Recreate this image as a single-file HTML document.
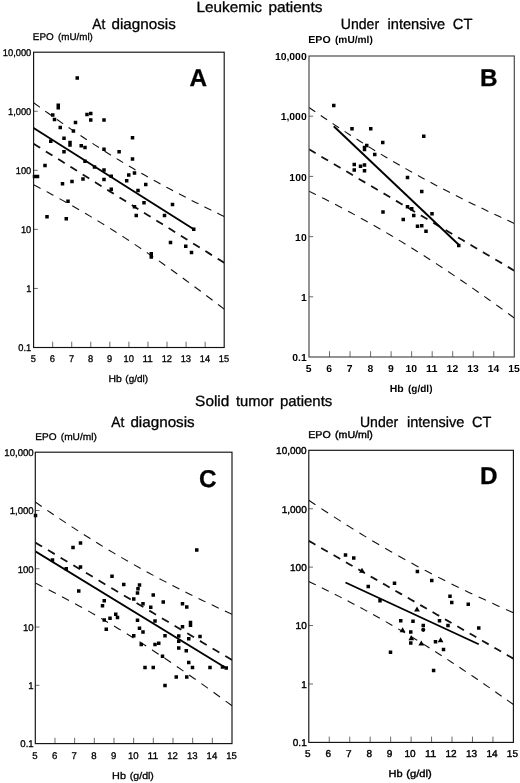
<!DOCTYPE html>
<html lang="en"><head><meta charset="utf-8"><title>EPO vs Hb</title>
<style>html,body{margin:0;padding:0;background:#fff}body{width:520px;height:783px;overflow:hidden}</style>
</head><body>
<svg width="520" height="783" viewBox="0 0 520 783" style="display:block" text-rendering="geometricPrecision">
<rect width="520" height="783" fill="#fff"/>
<g font-family="'Liberation Sans', Arial, Helvetica, sans-serif" fill="#000" stroke="#000" stroke-width="0.3">
<text x="196.58" y="11.6" font-size="14.8" textLength="65.37" lengthAdjust="spacingAndGlyphs">Leukemic</text>
<text x="268.42" y="11.6" font-size="14.8" textLength="54.02" lengthAdjust="spacingAndGlyphs">patients</text>
<text x="92.33" y="29.1" font-size="14.8" textLength="13.02" lengthAdjust="spacingAndGlyphs">At</text>
<text x="111.52" y="29.1" font-size="14.8" textLength="64.33" lengthAdjust="spacingAndGlyphs">diagnosis</text>
<text x="340.83" y="29.0" font-size="14.8" textLength="38.27" lengthAdjust="spacingAndGlyphs">Under</text>
<text x="387.52" y="29.0" font-size="14.8" textLength="57.67" lengthAdjust="spacingAndGlyphs">intensive</text>
<text x="452.82" y="29.0" font-size="14.8" textLength="19.68" lengthAdjust="spacingAndGlyphs">CT</text>
<text x="195.13" y="406.4" font-size="14.8" textLength="34.23" lengthAdjust="spacingAndGlyphs">Solid</text>
<text x="235.89" y="406.4" font-size="14.8" textLength="37.71" lengthAdjust="spacingAndGlyphs">tumor</text>
<text x="279.92" y="406.4" font-size="14.8" textLength="52.42" lengthAdjust="spacingAndGlyphs">patients</text>
<text x="111.28" y="426.5" font-size="14.8" textLength="13.07" lengthAdjust="spacingAndGlyphs">At</text>
<text x="130.42" y="426.5" font-size="14.8" textLength="64.33" lengthAdjust="spacingAndGlyphs">diagnosis</text>
<text x="359.93" y="426.7" font-size="14.8" textLength="38.27" lengthAdjust="spacingAndGlyphs">Under</text>
<text x="407.02" y="426.7" font-size="14.8" textLength="57.37" lengthAdjust="spacingAndGlyphs">intensive</text>
<text x="472.02" y="426.7" font-size="14.8" textLength="19.38" lengthAdjust="spacingAndGlyphs">CT</text>
<text x="189.6" y="85.75" font-size="24.3" font-weight="bold">A</text>
<text x="480.0" y="85.75" font-size="24.3" font-weight="bold">B</text>
<text x="199.0" y="486.9" font-size="24.3" font-weight="bold">C</text>
<text x="480.0" y="483.75" font-size="24.3" font-weight="bold">D</text>
</g>
<g id="panelA">
<clipPath id="clipA"><rect x="33.6" y="52.2" width="190.60" height="295.30"/></clipPath>
<g fill="none" stroke="#111" clip-path="url(#clipA)">
<path d="M33.60,102.70 L38.37,106.17 L43.13,109.61 L47.89,113.02 L52.66,116.40 L57.42,119.75 L62.19,123.08 L66.95,126.37 L71.72,129.63 L76.48,132.85 L81.25,136.04 L86.02,139.20 L90.78,142.32 L95.54,145.41 L100.31,148.46 L105.07,151.48 L109.84,154.46 L114.60,157.40 L119.37,160.31 L124.13,163.19 L128.90,166.02 L133.66,168.83 L138.43,171.59 L143.19,174.33 L147.96,177.03 L152.72,179.70 L157.49,182.33 L162.25,184.94 L167.02,187.52 L171.78,190.06 L176.55,192.58 L181.31,195.07 L186.08,197.54 L190.84,199.98 L195.61,202.39 L200.37,204.79 L205.14,207.16 L209.90,209.50 L214.67,211.83 L219.43,214.14 L224.20,216.43" stroke-width="1.1" stroke-dasharray="7.66 6.65"/>
<path d="M33.60,184.79 L38.37,187.27 L43.13,189.79 L47.89,192.33 L52.66,194.90 L57.42,197.50 L62.19,200.13 L66.95,202.79 L71.72,205.49 L76.48,208.21 L81.25,210.97 L86.02,213.77 L90.78,216.60 L95.54,219.47 L100.31,222.37 L105.07,225.31 L109.84,228.28 L114.60,231.29 L119.37,234.33 L124.13,237.41 L128.90,240.53 L133.66,243.68 L138.43,246.86 L143.19,250.08 L147.96,253.33 L152.72,256.62 L157.49,259.94 L162.25,263.28 L167.02,266.66 L171.78,270.07 L176.55,273.50 L181.31,276.96 L186.08,280.45 L190.84,283.96 L195.61,287.50 L200.37,291.06 L205.14,294.65 L209.90,298.25 L214.67,301.88 L219.43,305.52 L224.20,309.19" stroke-width="1.1" stroke-dasharray="7.85 6.82"/>
<path d="M33.60,143.74 L38.37,146.72 L43.13,149.70 L47.89,152.67 L52.66,155.65 L57.42,158.63 L62.19,161.60 L66.95,164.58 L71.72,167.56 L76.48,170.53 L81.25,173.51 L86.02,176.49 L90.78,179.46 L95.54,182.44 L100.31,185.42 L105.07,188.39 L109.84,191.37 L114.60,194.35 L119.37,197.32 L124.13,200.30 L128.90,203.28 L133.66,206.25 L138.43,209.23 L143.19,212.21 L147.96,215.18 L152.72,218.16 L157.49,221.14 L162.25,224.11 L167.02,227.09 L171.78,230.07 L176.55,233.04 L181.31,236.02 L186.08,238.99 L190.84,241.97 L195.61,244.95 L200.37,247.92 L205.14,250.90 L209.90,253.88 L214.67,256.85 L219.43,259.83 L224.20,262.81" stroke-width="1.8" stroke-dasharray="7.74 6.73"/>
<path d="M33.6,128.0 L193.75,229.25" stroke-width="1.9" stroke="#000"/>
</g>
<path d="M75.50,76.25h3.5v3.5h-3.5zM56.50,103.55h3.5v3.5h-3.5zM56.50,106.05h3.5v3.5h-3.5zM51.00,113.25h3.5v3.5h-3.5zM52.75,117.75h3.5v3.5h-3.5zM58.50,125.75h3.5v3.5h-3.5zM62.25,136.55h3.5v3.5h-3.5zM73.75,120.75h3.5v3.5h-3.5zM71.65,129.35h3.5v3.5h-3.5zM85.25,112.75h3.5v3.5h-3.5zM89.00,111.75h3.5v3.5h-3.5zM89.00,118.25h3.5v3.5h-3.5zM102.25,118.25h3.5v3.5h-3.5zM130.75,136.05h3.5v3.5h-3.5zM49.00,139.50h3.5v3.5h-3.5zM68.25,140.75h3.5v3.5h-3.5zM68.25,143.25h3.5v3.5h-3.5zM79.50,144.00h3.5v3.5h-3.5zM83.25,145.75h3.5v3.5h-3.5zM62.25,150.00h3.5v3.5h-3.5zM102.25,147.50h3.5v3.5h-3.5zM117.35,150.00h3.5v3.5h-3.5zM130.75,157.25h3.5v3.5h-3.5zM83.25,159.50h3.5v3.5h-3.5zM43.25,163.75h3.5v3.5h-3.5zM92.75,165.25h3.5v3.5h-3.5zM102.25,168.25h3.5v3.5h-3.5zM32.75,174.75h3.5v3.5h-3.5zM35.75,174.75h3.5v3.5h-3.5zM109.50,174.55h3.5v3.5h-3.5zM127.00,173.25h3.5v3.5h-3.5zM132.75,171.25h3.5v3.5h-3.5zM81.25,177.25h3.5v3.5h-3.5zM102.25,177.75h3.5v3.5h-3.5zM70.25,179.75h3.5v3.5h-3.5zM124.95,179.00h3.5v3.5h-3.5zM60.75,182.00h3.5v3.5h-3.5zM144.00,182.75h3.5v3.5h-3.5zM109.50,187.50h3.5v3.5h-3.5zM136.25,188.75h3.5v3.5h-3.5zM66.25,199.50h3.5v3.5h-3.5zM142.25,201.00h3.5v3.5h-3.5zM132.75,205.00h3.5v3.5h-3.5zM134.50,213.75h3.5v3.5h-3.5zM45.25,215.00h3.5v3.5h-3.5zM64.50,217.00h3.5v3.5h-3.5zM170.75,202.75h3.5v3.5h-3.5zM162.75,213.75h3.5v3.5h-3.5zM192.00,227.50h3.5v3.5h-3.5zM168.75,240.75h3.5v3.5h-3.5zM184.00,244.50h3.5v3.5h-3.5zM189.75,250.75h3.5v3.5h-3.5zM149.50,252.00h3.5v3.5h-3.5zM149.50,255.25h3.5v3.5h-3.5z" fill="#000"/>
<path d="M52.66,347.5v-5.8M71.72,347.5v-5.8M90.78,347.5v-5.8M109.84,347.5v-5.8M128.90,347.5v-5.8M147.96,347.5v-5.8M167.02,347.5v-5.8M186.08,347.5v-5.8M205.14,347.5v-5.8M33.6,288.44h4.2M33.6,229.38h4.2M33.6,170.32h4.2M33.6,111.26h4.2" stroke="#505050" stroke-width="0.85" fill="none"/>
<rect x="33.6" y="52.2" width="190.60" height="295.30" fill="none" stroke="#111" stroke-width="1.15"/>
<g font-family="'Liberation Sans', Arial, Helvetica, sans-serif" fill="#000" font-size="9.7" stroke="#000" stroke-width="0.3">
<text x="18.37" y="351.03" textLength="12.93" lengthAdjust="spacingAndGlyphs">0.1</text>
<text x="26.13" y="291.97" textLength="5.17" lengthAdjust="spacingAndGlyphs">1</text>
<text x="20.96" y="232.91" textLength="10.34" lengthAdjust="spacingAndGlyphs">10</text>
<text x="15.79" y="173.85" textLength="15.51" lengthAdjust="spacingAndGlyphs">100</text>
<text x="8.03" y="114.79" textLength="23.27" lengthAdjust="spacingAndGlyphs">1,000</text>
<text x="2.86" y="55.73" textLength="28.44" lengthAdjust="spacingAndGlyphs">10,000</text>
<text x="30.81" y="361.50" textLength="5.17" lengthAdjust="spacingAndGlyphs">5</text>
<text x="49.87" y="361.50" textLength="5.17" lengthAdjust="spacingAndGlyphs">6</text>
<text x="68.93" y="361.50" textLength="5.17" lengthAdjust="spacingAndGlyphs">7</text>
<text x="87.99" y="361.50" textLength="5.17" lengthAdjust="spacingAndGlyphs">8</text>
<text x="107.05" y="361.50" textLength="5.17" lengthAdjust="spacingAndGlyphs">9</text>
<text x="123.53" y="361.50" textLength="10.34" lengthAdjust="spacingAndGlyphs">10</text>
<text x="142.59" y="361.50" textLength="10.34" lengthAdjust="spacingAndGlyphs">11</text>
<text x="161.65" y="361.50" textLength="10.34" lengthAdjust="spacingAndGlyphs">12</text>
<text x="180.71" y="361.50" textLength="10.34" lengthAdjust="spacingAndGlyphs">13</text>
<text x="199.77" y="361.50" textLength="10.34" lengthAdjust="spacingAndGlyphs">14</text>
<text x="218.83" y="361.50" textLength="10.34" lengthAdjust="spacingAndGlyphs">15</text>
<text x="32.88" y="40.3" textLength="20.80" lengthAdjust="spacingAndGlyphs">EPO</text>
<text x="58.07" y="40.3" textLength="34.81" lengthAdjust="spacingAndGlyphs">(mU/ml)</text>
<text x="108.43" y="382.1" textLength="13.30" lengthAdjust="spacingAndGlyphs">Hb</text>
<text x="125.37" y="382.1" textLength="22.76" lengthAdjust="spacingAndGlyphs">(g/dl)</text>
</g>
</g>
<g id="panelB">
<clipPath id="clipB"><rect x="309.0" y="56.0" width="205.30" height="301.00"/></clipPath>
<g fill="none" stroke="#111" clip-path="url(#clipB)">
<path d="M309.00,107.47 L314.13,111.01 L319.26,114.51 L324.40,117.99 L329.53,121.44 L334.66,124.86 L339.80,128.24 L344.93,131.60 L350.06,134.92 L355.19,138.21 L360.32,141.46 L365.46,144.68 L370.59,147.86 L375.72,151.01 L380.85,154.12 L385.99,157.20 L391.12,160.23 L396.25,163.23 L401.38,166.20 L406.52,169.13 L411.65,172.02 L416.78,174.88 L421.91,177.70 L427.05,180.49 L432.18,183.24 L437.31,185.96 L442.44,188.65 L447.58,191.30 L452.71,193.93 L457.84,196.52 L462.97,199.09 L468.11,201.63 L473.24,204.14 L478.37,206.63 L483.50,209.09 L488.64,211.53 L493.77,213.95 L498.90,216.34 L504.03,218.71 L509.17,221.06 L514.30,223.40" stroke-width="1.1" stroke-dasharray="7.64 6.64"/>
<path d="M309.00,191.15 L314.13,193.68 L319.26,196.24 L324.40,198.83 L329.53,201.45 L334.66,204.10 L339.80,206.78 L344.93,209.50 L350.06,212.24 L355.19,215.02 L360.32,217.84 L365.46,220.69 L370.59,223.57 L375.72,226.50 L380.85,229.45 L385.99,232.45 L391.12,235.48 L396.25,238.54 L401.38,241.65 L406.52,244.79 L411.65,247.96 L416.78,251.17 L421.91,254.42 L427.05,257.70 L432.18,261.02 L437.31,264.36 L442.44,267.75 L447.58,271.16 L452.71,274.60 L457.84,278.07 L462.97,281.57 L468.11,285.10 L473.24,288.66 L478.37,292.24 L483.50,295.84 L488.64,299.47 L493.77,303.13 L498.90,306.80 L504.03,310.50 L509.17,314.21 L514.30,317.95" stroke-width="1.1" stroke-dasharray="7.82 6.80"/>
<path d="M309.00,149.31 L314.13,152.34 L319.26,155.38 L324.40,158.41 L329.53,161.45 L334.66,164.48 L339.80,167.51 L344.93,170.55 L350.06,173.58 L355.19,176.62 L360.32,179.65 L365.46,182.68 L370.59,185.72 L375.72,188.75 L380.85,191.79 L385.99,194.82 L391.12,197.86 L396.25,200.89 L401.38,203.92 L406.52,206.96 L411.65,209.99 L416.78,213.03 L421.91,216.06 L427.05,219.09 L432.18,222.13 L437.31,225.16 L442.44,228.20 L447.58,231.23 L452.71,234.26 L457.84,237.30 L462.97,240.33 L468.11,243.37 L473.24,246.40 L478.37,249.43 L483.50,252.47 L488.64,255.50 L493.77,258.54 L498.90,261.57 L504.03,264.61 L509.17,267.64 L514.30,270.67" stroke-width="1.8" stroke-dasharray="7.72 6.71"/>
<path d="M333.75,126.25 L458.5,244.5" stroke-width="1.9" stroke="#000"/>
</g>
<path d="M332.00,103.75h3.5v3.5h-3.5zM350.25,127.00h3.5v3.5h-3.5zM369.00,127.00h3.5v3.5h-3.5zM381.00,140.75h3.5v3.5h-3.5zM365.00,143.75h3.5v3.5h-3.5zM362.75,145.75h3.5v3.5h-3.5zM362.75,147.75h3.5v3.5h-3.5zM373.00,152.75h3.5v3.5h-3.5zM352.50,162.75h3.5v3.5h-3.5zM352.50,168.25h3.5v3.5h-3.5zM358.75,164.50h3.5v3.5h-3.5zM362.75,163.25h3.5v3.5h-3.5zM362.75,169.00h3.5v3.5h-3.5zM422.00,134.50h3.5v3.5h-3.5zM405.75,175.75h3.5v3.5h-3.5zM420.00,189.75h3.5v3.5h-3.5zM381.25,210.25h3.5v3.5h-3.5zM405.75,205.00h3.5v3.5h-3.5zM410.00,207.00h3.5v3.5h-3.5zM430.25,212.00h3.5v3.5h-3.5zM412.00,213.75h3.5v3.5h-3.5zM401.50,217.75h3.5v3.5h-3.5zM415.75,224.50h3.5v3.5h-3.5zM420.00,224.00h3.5v3.5h-3.5zM424.25,229.50h3.5v3.5h-3.5zM457.00,243.75h3.5v3.5h-3.5z" fill="#000"/>
<path d="M329.53,357.0v-5.8M350.06,357.0v-5.8M370.59,357.0v-5.8M391.12,357.0v-5.8M411.65,357.0v-5.8M432.18,357.0v-5.8M452.71,357.0v-5.8M473.24,357.0v-5.8M493.77,357.0v-5.8M309.0,296.80h4.2M309.0,236.60h4.2M309.0,176.40h4.2M309.0,116.20h4.2" stroke="#505050" stroke-width="0.85" fill="none"/>
<rect x="309.0" y="56.0" width="205.30" height="301.00" fill="none" stroke="#444" stroke-width="1.15"/>
<g font-family="'Liberation Sans', Arial, Helvetica, sans-serif" fill="#000" font-size="10.1" font-weight="bold">
<text x="292.24" y="361.22" textLength="14.46" lengthAdjust="spacingAndGlyphs">0.1</text>
<text x="300.92" y="301.02" textLength="5.78" lengthAdjust="spacingAndGlyphs">1</text>
<text x="295.14" y="240.82" textLength="11.56" lengthAdjust="spacingAndGlyphs">10</text>
<text x="289.35" y="180.62" textLength="17.35" lengthAdjust="spacingAndGlyphs">100</text>
<text x="280.68" y="120.42" textLength="26.02" lengthAdjust="spacingAndGlyphs">1,000</text>
<text x="274.90" y="60.22" textLength="31.80" lengthAdjust="spacingAndGlyphs">10,000</text>
<text x="305.81" y="372.00" textLength="5.78" lengthAdjust="spacingAndGlyphs">5</text>
<text x="326.34" y="372.00" textLength="5.78" lengthAdjust="spacingAndGlyphs">6</text>
<text x="346.87" y="372.00" textLength="5.78" lengthAdjust="spacingAndGlyphs">7</text>
<text x="367.40" y="372.00" textLength="5.78" lengthAdjust="spacingAndGlyphs">8</text>
<text x="387.93" y="372.00" textLength="5.78" lengthAdjust="spacingAndGlyphs">9</text>
<text x="405.57" y="372.00" textLength="11.56" lengthAdjust="spacingAndGlyphs">10</text>
<text x="426.10" y="372.00" textLength="11.56" lengthAdjust="spacingAndGlyphs">11</text>
<text x="446.63" y="372.00" textLength="11.56" lengthAdjust="spacingAndGlyphs">12</text>
<text x="467.16" y="372.00" textLength="11.56" lengthAdjust="spacingAndGlyphs">13</text>
<text x="487.69" y="372.00" textLength="11.56" lengthAdjust="spacingAndGlyphs">14</text>
<text x="508.22" y="372.00" textLength="11.56" lengthAdjust="spacingAndGlyphs">15</text>
<text x="308.30" y="43.4" textLength="22.40" lengthAdjust="spacingAndGlyphs">EPO</text>
<text x="334.99" y="43.4" textLength="37.81" lengthAdjust="spacingAndGlyphs">(mU/ml)</text>
<text x="389.80" y="392.4" textLength="14.00" lengthAdjust="spacingAndGlyphs">Hb</text>
<text x="407.99" y="392.4" textLength="24.51" lengthAdjust="spacingAndGlyphs">(g/dl)</text>
</g>
</g>
<g id="panelC">
<clipPath id="clipC"><rect x="35.3" y="452.2" width="196.70" height="291.40"/></clipPath>
<g fill="none" stroke="#111" clip-path="url(#clipC)">
<path d="M35.30,502.03 L40.22,505.45 L45.13,508.85 L50.05,512.21 L54.97,515.55 L59.89,518.86 L64.80,522.14 L69.72,525.39 L74.64,528.60 L79.56,531.79 L84.47,534.94 L89.39,538.05 L94.31,541.13 L99.23,544.18 L104.14,547.19 L109.06,550.17 L113.98,553.11 L118.90,556.01 L123.81,558.88 L128.73,561.72 L133.65,564.52 L138.57,567.29 L143.48,570.02 L148.40,572.72 L153.32,575.38 L158.24,578.01 L163.15,580.62 L168.07,583.19 L172.99,585.73 L177.91,588.24 L182.82,590.73 L187.74,593.19 L192.66,595.62 L197.58,598.03 L202.50,600.41 L207.41,602.77 L212.33,605.11 L217.25,607.43 L222.16,609.72 L227.08,612.00 L232.00,614.26" stroke-width="1.1" stroke-dasharray="7.81 6.79"/>
<path d="M35.30,583.04 L40.22,585.49 L45.13,587.97 L50.05,590.48 L54.97,593.01 L59.89,595.58 L64.80,598.18 L69.72,600.80 L74.64,603.46 L79.56,606.15 L84.47,608.88 L89.39,611.64 L94.31,614.43 L99.23,617.26 L104.14,620.12 L109.06,623.02 L113.98,625.95 L118.90,628.92 L123.81,631.93 L128.73,634.97 L133.65,638.04 L138.57,641.15 L143.48,644.29 L148.40,647.47 L153.32,650.68 L158.24,653.92 L163.15,657.19 L168.07,660.49 L172.99,663.83 L177.91,667.19 L182.82,670.58 L187.74,673.99 L192.66,677.44 L197.58,680.90 L202.50,684.39 L207.41,687.91 L212.33,691.45 L217.25,695.00 L222.16,698.58 L227.08,702.18 L232.00,705.80" stroke-width="1.1" stroke-dasharray="8.00 6.95"/>
<path d="M35.30,542.53 L40.22,545.47 L45.13,548.41 L50.05,551.35 L54.97,554.28 L59.89,557.22 L64.80,560.16 L69.72,563.10 L74.64,566.03 L79.56,568.97 L84.47,571.91 L89.39,574.84 L94.31,577.78 L99.23,580.72 L104.14,583.66 L109.06,586.59 L113.98,589.53 L118.90,592.47 L123.81,595.41 L128.73,598.34 L133.65,601.28 L138.57,604.22 L143.48,607.15 L148.40,610.09 L153.32,613.03 L158.24,615.97 L163.15,618.90 L168.07,621.84 L172.99,624.78 L177.91,627.72 L182.82,630.65 L187.74,633.59 L192.66,636.53 L197.58,639.47 L202.50,642.40 L207.41,645.34 L212.33,648.28 L217.25,651.21 L222.16,654.15 L227.08,657.09 L232.00,660.03" stroke-width="1.8" stroke-dasharray="7.89 6.86"/>
<path d="M35.3,551.25 L226,668" stroke-width="1.9" stroke="#000"/>
</g>
<path d="M33.75,513.75h3.5v3.5h-3.5zM78.75,541.25h3.5v3.5h-3.5zM71.25,545.75h3.5v3.5h-3.5zM50.75,558.25h3.5v3.5h-3.5zM78.75,565.25h3.5v3.5h-3.5zM64.50,567.00h3.5v3.5h-3.5zM110.25,574.50h3.5v3.5h-3.5zM122.00,582.75h3.5v3.5h-3.5zM137.75,583.25h3.5v3.5h-3.5zM136.25,587.00h3.5v3.5h-3.5zM135.75,591.25h3.5v3.5h-3.5zM77.00,589.25h3.5v3.5h-3.5zM132.00,597.25h3.5v3.5h-3.5zM102.50,599.00h3.5v3.5h-3.5zM141.25,602.00h3.5v3.5h-3.5zM100.75,604.00h3.5v3.5h-3.5zM149.00,605.45h3.5v3.5h-3.5zM114.00,612.50h3.5v3.5h-3.5zM115.75,615.75h3.5v3.5h-3.5zM108.25,616.50h3.5v3.5h-3.5zM102.50,618.25h3.5v3.5h-3.5zM135.75,618.45h3.5v3.5h-3.5zM104.50,627.55h3.5v3.5h-3.5zM137.75,626.50h3.5v3.5h-3.5zM141.25,630.25h3.5v3.5h-3.5zM132.00,634.00h3.5v3.5h-3.5zM195.00,548.25h3.5v3.5h-3.5zM151.50,593.25h3.5v3.5h-3.5zM161.50,600.25h3.5v3.5h-3.5zM180.75,602.00h3.5v3.5h-3.5zM185.00,605.25h3.5v3.5h-3.5zM153.25,619.25h3.5v3.5h-3.5zM188.75,620.75h3.5v3.5h-3.5zM188.75,623.55h3.5v3.5h-3.5zM180.75,625.00h3.5v3.5h-3.5zM163.25,634.00h3.5v3.5h-3.5zM177.00,634.25h3.5v3.5h-3.5zM187.00,637.00h3.5v3.5h-3.5zM198.25,634.75h3.5v3.5h-3.5zM177.00,639.50h3.5v3.5h-3.5zM139.50,642.75h3.5v3.5h-3.5zM153.25,642.75h3.5v3.5h-3.5zM157.00,641.50h3.5v3.5h-3.5zM177.00,646.25h3.5v3.5h-3.5zM184.50,649.00h3.5v3.5h-3.5zM160.75,654.50h3.5v3.5h-3.5zM187.00,660.75h3.5v3.5h-3.5zM143.25,665.75h3.5v3.5h-3.5zM151.50,665.75h3.5v3.5h-3.5zM190.75,665.75h3.5v3.5h-3.5zM208.25,665.75h3.5v3.5h-3.5zM220.75,665.25h3.5v3.5h-3.5zM224.50,666.25h3.5v3.5h-3.5zM174.50,675.25h3.5v3.5h-3.5zM185.00,675.25h3.5v3.5h-3.5zM163.25,683.75h3.5v3.5h-3.5z" fill="#000"/>
<path d="M54.97,743.6v-5.8M74.64,743.6v-5.8M94.31,743.6v-5.8M113.98,743.6v-5.8M133.65,743.6v-5.8M153.32,743.6v-5.8M172.99,743.6v-5.8M192.66,743.6v-5.8M212.33,743.6v-5.8M35.3,685.32h4.2M35.3,627.04h4.2M35.3,568.76h4.2M35.3,510.48h4.2" stroke="#505050" stroke-width="0.85" fill="none"/>
<rect x="35.3" y="452.2" width="196.70" height="291.40" fill="none" stroke="#111" stroke-width="1.15"/>
<g font-family="'Liberation Sans', Arial, Helvetica, sans-serif" fill="#000" font-size="9.7" stroke="#000" stroke-width="0.3">
<text x="20.36" y="747.34" textLength="13.34" lengthAdjust="spacingAndGlyphs">0.1</text>
<text x="28.36" y="689.06" textLength="5.34" lengthAdjust="spacingAndGlyphs">1</text>
<text x="23.02" y="630.78" textLength="10.68" lengthAdjust="spacingAndGlyphs">10</text>
<text x="17.69" y="572.50" textLength="16.01" lengthAdjust="spacingAndGlyphs">100</text>
<text x="9.68" y="514.22" textLength="24.02" lengthAdjust="spacingAndGlyphs">1,000</text>
<text x="4.34" y="455.94" textLength="29.36" lengthAdjust="spacingAndGlyphs">10,000</text>
<text x="32.23" y="758.60" textLength="5.34" lengthAdjust="spacingAndGlyphs">5</text>
<text x="51.90" y="758.60" textLength="5.34" lengthAdjust="spacingAndGlyphs">6</text>
<text x="71.57" y="758.60" textLength="5.34" lengthAdjust="spacingAndGlyphs">7</text>
<text x="91.24" y="758.60" textLength="5.34" lengthAdjust="spacingAndGlyphs">8</text>
<text x="110.91" y="758.60" textLength="5.34" lengthAdjust="spacingAndGlyphs">9</text>
<text x="127.91" y="758.60" textLength="10.68" lengthAdjust="spacingAndGlyphs">10</text>
<text x="147.58" y="758.60" textLength="10.68" lengthAdjust="spacingAndGlyphs">11</text>
<text x="167.25" y="758.60" textLength="10.68" lengthAdjust="spacingAndGlyphs">12</text>
<text x="186.92" y="758.60" textLength="10.68" lengthAdjust="spacingAndGlyphs">13</text>
<text x="206.59" y="758.60" textLength="10.68" lengthAdjust="spacingAndGlyphs">14</text>
<text x="226.26" y="758.60" textLength="10.68" lengthAdjust="spacingAndGlyphs">15</text>
<text x="35.23" y="440.2" textLength="21.25" lengthAdjust="spacingAndGlyphs">EPO</text>
<text x="60.77" y="440.2" textLength="36.06" lengthAdjust="spacingAndGlyphs">(mU/ml)</text>
<text x="112.13" y="779.0" textLength="13.85" lengthAdjust="spacingAndGlyphs">Hb</text>
<text x="129.82" y="779.0" textLength="24.06" lengthAdjust="spacingAndGlyphs">(g/dl)</text>
</g>
</g>
<g id="panelD">
<clipPath id="clipD"><rect x="308.8" y="450.3" width="204.60" height="292.10"/></clipPath>
<g fill="none" stroke="#111" clip-path="url(#clipD)">
<path d="M308.80,500.25 L313.92,503.68 L319.03,507.08 L324.14,510.46 L329.26,513.81 L334.38,517.12 L339.49,520.41 L344.61,523.66 L349.72,526.89 L354.84,530.08 L359.95,533.24 L365.06,536.36 L370.18,539.45 L375.30,542.50 L380.41,545.52 L385.52,548.50 L390.64,551.45 L395.75,554.36 L400.87,557.24 L405.99,560.08 L411.10,562.89 L416.22,565.66 L421.33,568.40 L426.44,571.10 L431.56,573.78 L436.68,576.42 L441.79,579.02 L446.90,581.60 L452.02,584.15 L457.13,586.67 L462.25,589.16 L467.37,591.63 L472.48,594.06 L477.60,596.48 L482.71,598.87 L487.82,601.23 L492.94,603.58 L498.05,605.90 L503.17,608.20 L508.28,610.48 L513.40,612.75" stroke-width="1.1" stroke-dasharray="8.05 7.00"/>
<path d="M308.80,581.45 L313.92,583.91 L319.03,586.40 L324.14,588.91 L329.26,591.45 L334.38,594.02 L339.49,596.63 L344.61,599.26 L349.72,601.92 L354.84,604.62 L359.95,607.35 L365.06,610.12 L370.18,612.92 L375.30,615.75 L380.41,618.62 L385.52,621.53 L390.64,624.47 L395.75,627.45 L400.87,630.46 L405.99,633.51 L411.10,636.59 L416.22,639.70 L421.33,642.85 L426.44,646.04 L431.56,649.26 L436.68,652.50 L441.79,655.78 L446.90,659.10 L452.02,662.44 L457.13,665.81 L462.25,669.20 L467.37,672.63 L472.48,676.08 L477.60,679.55 L482.71,683.05 L487.82,686.58 L492.94,690.12 L498.05,693.69 L503.17,697.27 L508.28,700.88 L513.40,704.50" stroke-width="1.1" stroke-dasharray="7.74 6.72"/>
<path d="M308.80,540.85 L313.92,543.80 L319.03,546.74 L324.14,549.68 L329.26,552.63 L334.38,555.57 L339.49,558.52 L344.61,561.46 L349.72,564.41 L354.84,567.35 L359.95,570.29 L365.06,573.24 L370.18,576.18 L375.30,579.13 L380.41,582.07 L385.52,585.02 L390.64,587.96 L395.75,590.91 L400.87,593.85 L405.99,596.79 L411.10,599.74 L416.22,602.68 L421.33,605.63 L426.44,608.57 L431.56,611.52 L436.68,614.46 L441.79,617.40 L446.90,620.35 L452.02,623.29 L457.13,626.24 L462.25,629.18 L467.37,632.13 L472.48,635.07 L477.60,638.02 L482.71,640.96 L487.82,643.90 L492.94,646.85 L498.05,649.79 L503.17,652.74 L508.28,655.68 L513.40,658.63" stroke-width="1.8" stroke-dasharray="7.64 6.64"/>
<path d="M345.5,582.5 L478.75,644.25" stroke-width="1.9" stroke="#000"/>
</g>
<path d="M343.75,553.25h3.5v3.5h-3.5zM352.00,556.25h3.5v3.5h-3.5zM415.65,569.65h3.5v3.5h-3.5zM392.75,581.50h3.5v3.5h-3.5zM366.50,584.75h3.5v3.5h-3.5zM378.25,599.00h3.5v3.5h-3.5zM399.00,619.00h3.5v3.5h-3.5zM411.25,619.50h3.5v3.5h-3.5zM409.00,630.25h3.5v3.5h-3.5zM409.00,641.25h3.5v3.5h-3.5zM388.75,650.45h3.5v3.5h-3.5zM430.00,578.75h3.5v3.5h-3.5zM448.25,594.50h3.5v3.5h-3.5zM450.00,600.75h3.5v3.5h-3.5zM466.50,602.50h3.5v3.5h-3.5zM437.75,619.00h3.5v3.5h-3.5zM446.25,623.75h3.5v3.5h-3.5zM421.50,623.75h3.5v3.5h-3.5zM477.00,626.25h3.5v3.5h-3.5zM433.75,640.00h3.5v3.5h-3.5zM441.75,647.85h3.5v3.5h-3.5zM431.85,668.85h3.5v3.5h-3.5z" fill="#000"/>
<path d="M362.00,567.70l2.9,5h-5.8zM417.00,606.40l2.9,5h-5.8zM402.60,627.20l2.9,5h-5.8zM411.30,635.20l2.9,5h-5.8zM421.30,640.50l2.9,5h-5.8zM440.60,637.20l2.9,5h-5.8z" fill="#000"/>
<circle cx="423.25" cy="629.8" r="2.1" fill="#000"/>
<path d="M329.26,742.4v-5.8M349.72,742.4v-5.8M370.18,742.4v-5.8M390.64,742.4v-5.8M411.10,742.4v-5.8M431.56,742.4v-5.8M452.02,742.4v-5.8M472.48,742.4v-5.8M492.94,742.4v-5.8M308.8,683.98h4.2M308.8,625.56h4.2M308.8,567.14h4.2M308.8,508.72h4.2" stroke="#505050" stroke-width="0.85" fill="none"/>
<rect x="308.8" y="450.3" width="204.60" height="292.10" fill="none" stroke="#111" stroke-width="1.15"/>
<g font-family="'Liberation Sans', Arial, Helvetica, sans-serif" fill="#000" font-size="10.0" stroke="#000" stroke-width="0.4">
<text x="292.80" y="746.28" textLength="13.90" lengthAdjust="spacingAndGlyphs">0.1</text>
<text x="301.14" y="687.86" textLength="5.56" lengthAdjust="spacingAndGlyphs">1</text>
<text x="295.58" y="629.44" textLength="11.12" lengthAdjust="spacingAndGlyphs">10</text>
<text x="290.02" y="571.02" textLength="16.68" lengthAdjust="spacingAndGlyphs">100</text>
<text x="281.68" y="512.60" textLength="25.02" lengthAdjust="spacingAndGlyphs">1,000</text>
<text x="276.12" y="454.18" textLength="30.58" lengthAdjust="spacingAndGlyphs">10,000</text>
<text x="305.02" y="757.00" textLength="5.56" lengthAdjust="spacingAndGlyphs">5</text>
<text x="325.48" y="757.00" textLength="5.56" lengthAdjust="spacingAndGlyphs">6</text>
<text x="345.94" y="757.00" textLength="5.56" lengthAdjust="spacingAndGlyphs">7</text>
<text x="366.40" y="757.00" textLength="5.56" lengthAdjust="spacingAndGlyphs">8</text>
<text x="386.86" y="757.00" textLength="5.56" lengthAdjust="spacingAndGlyphs">9</text>
<text x="404.54" y="757.00" textLength="11.12" lengthAdjust="spacingAndGlyphs">10</text>
<text x="425.00" y="757.00" textLength="11.12" lengthAdjust="spacingAndGlyphs">11</text>
<text x="445.46" y="757.00" textLength="11.12" lengthAdjust="spacingAndGlyphs">12</text>
<text x="465.92" y="757.00" textLength="11.12" lengthAdjust="spacingAndGlyphs">13</text>
<text x="486.38" y="757.00" textLength="11.12" lengthAdjust="spacingAndGlyphs">14</text>
<text x="506.84" y="757.00" textLength="11.12" lengthAdjust="spacingAndGlyphs">15</text>
<text x="308.31" y="438.3" textLength="22.39" lengthAdjust="spacingAndGlyphs">EPO</text>
<text x="335.00" y="438.3" textLength="37.80" lengthAdjust="spacingAndGlyphs">(mU/ml)</text>
<text x="388.61" y="777.2" textLength="14.09" lengthAdjust="spacingAndGlyphs">Hb</text>
<text x="406.30" y="777.2" textLength="25.50" lengthAdjust="spacingAndGlyphs">(g/dl)</text>
</g>
</g>
</svg>
</body></html>
